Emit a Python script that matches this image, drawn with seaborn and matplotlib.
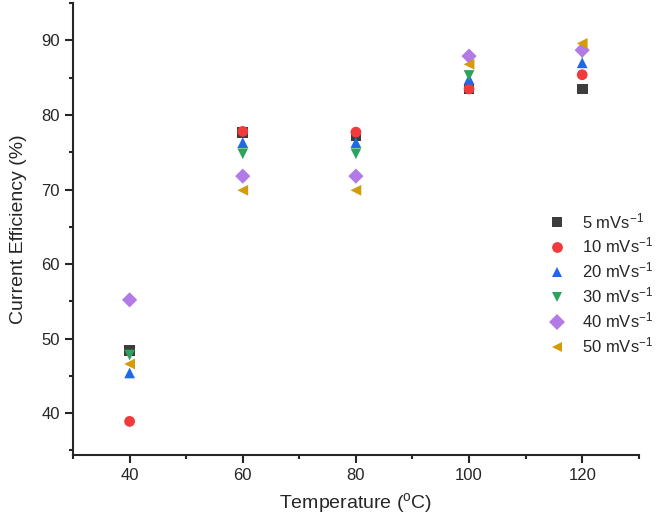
import matplotlib
matplotlib.use("Agg")
import matplotlib.pyplot as plt
import seaborn as sns
import pandas as pd
from matplotlib.ticker import MultipleLocator

temps = [40, 60, 80, 100, 120]
rates = ["5 mVs$^{-1}$", "10 mVs$^{-1}$", "20 mVs$^{-1}$",
         "30 mVs$^{-1}$", "40 mVs$^{-1}$", "50 mVs$^{-1}$"]
eff_5 = [48.4, 77.7, 77.3, 83.5, 83.5]
eff_10 = [38.9, 77.8, 77.7, 83.5, 85.4]
eff_20 = [45.4, 76.3, 76.3, 84.8, 87.0]
eff_30 = [47.8, 74.8, 74.8, 85.3, 88.3]
eff_40 = [55.2, 71.8, 71.8, 87.9, 88.7]
eff_50 = [46.6, 69.9, 69.9, 86.8, 89.6]

colors = ["#3d3d3d", "#f2393b", "#1f69e6", "#2ea35f", "#b27ae6", "#d49b0c"]
markers = ["s", "o", "^", "v", "D", "<"]

rows = []
for rate, vals in zip(rates, [eff_5, eff_10, eff_20, eff_30, eff_40, eff_50]):
    for t, v in zip(temps, vals):
        rows.append({"Temperature": t, "Efficiency": v, "Rate": rate})
df = pd.DataFrame(rows)

sns.set_style("ticks")
plt.rcParams["font.family"] = ["Liberation Sans", "DejaVu Sans"]
plt.rcParams["mathtext.fontset"] = "custom"
plt.rcParams["mathtext.rm"] = "Liberation Sans"
plt.rcParams["mathtext.it"] = "Liberation Sans"

fig = plt.figure(figsize=(6.64, 5.29), dpi=100)
ax = fig.add_axes([0.110, 0.140, 0.852, 0.854])

sns.scatterplot(data=df, x="Temperature", y="Efficiency", hue="Rate", style="Rate",
                hue_order=rates, style_order=rates,
                palette=dict(zip(rates, colors)), markers=dict(zip(rates, markers)),
                s=60, linewidth=0, ax=ax)

ax.set_xlim(30, 130)
ax.set_ylim(34.4, 95)
ax.xaxis.set_major_locator(MultipleLocator(20))
ax.xaxis.set_minor_locator(MultipleLocator(10))
ax.yaxis.set_major_locator(MultipleLocator(10))
ax.yaxis.set_minor_locator(MultipleLocator(5))
ax.tick_params(which="major", length=6, width=1.5, labelsize=12, direction="out")
ax.tick_params(which="minor", length=3, width=1.5, direction="out")
for side in ["left", "bottom"]:
    ax.spines[side].set_linewidth(1.5)
sns.despine(ax=ax)

ax.set_xlabel("Temperature ($^{\\rm o}$C)", fontsize=14, labelpad=6)
ax.set_ylabel("Current Efficiency (%)", fontsize=14, labelpad=10)

ax.legend(loc="center left", bbox_to_anchor=(0.80, 0.38), frameon=False,
          fontsize=12, handletextpad=0.5, labelspacing=0.3, markerscale=1.0)

fig.savefig("out.png", dpi=100)
